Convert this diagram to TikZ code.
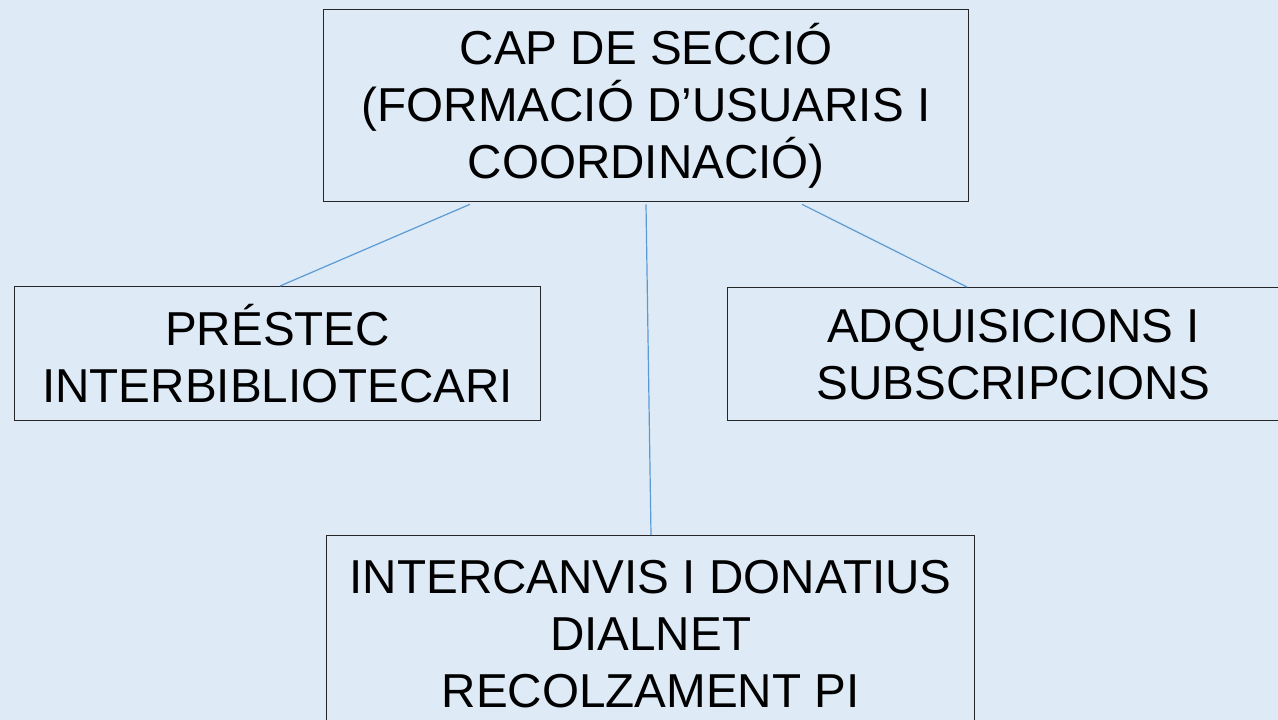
\documentclass[tikz,border=0pt]{standalone}
\usepackage{fontspec}
\setmainfont{Liberation Sans}
\definecolor{bgc}{HTML}{DEEAF6}
\definecolor{linec}{HTML}{5B9BD5}
\definecolor{boxc}{HTML}{262626}
\begin{document}
\begin{tikzpicture}[x=1pt,y=-1pt,
  box/.style={draw=boxc,line width=1.3pt,rectangle,anchor=north west,inner sep=0pt,
    align=center,font=\fontsize{47.6}{57}\selectfont},
  conn/.style={draw=linec,line width=1.2pt}]
\useasboundingbox (0,0) rectangle (1278,720);
\fill[bgc] (0,0) rectangle (1278,720);
\node[box,minimum width=645pt,minimum height=192pt] (top) at (323,9)
  {CAP DE SECCIÓ\\(FORMACIÓ D’USUARIS I\\COORDINACIÓ)};
\node[box,minimum width=526pt,minimum height=134pt] (left) at (14,286)
  {PRÉSTEC\\INTERBIBLIOTECARI};
\node[box,minimum width=572pt,minimum height=133pt] (right) at (727,287)
  {ADQUISICIONS I\\SUBSCRIPCIONS};
\node[box,minimum width=648pt,minimum height=196pt] (bottom) at (326,535)
  {INTERCANVIS I DONATIUS\\DIALNET\\RECOLZAMENT PI};
\draw[conn] ([xshift=147pt,yshift=-2pt]top.south west) -- ([xshift=266pt]left.north west);
\draw[conn] ([xshift=323pt,yshift=-2pt]top.south west) -- ([xshift=325pt]bottom.north west);
\draw[conn] ([xshift=479pt,yshift=-2pt]top.south west) -- ([xshift=240pt]right.north west);
\end{tikzpicture}
\end{document}
